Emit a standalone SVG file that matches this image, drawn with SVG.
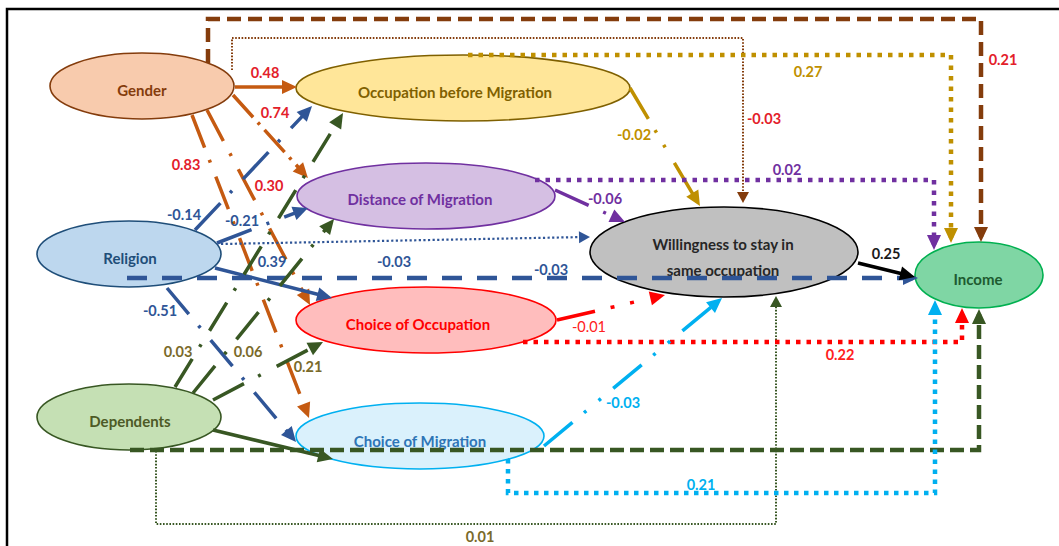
<svg xmlns="http://www.w3.org/2000/svg" width="1059" height="546" viewBox="0 0 1059 546">
<style>
.nt{font-family:Lato,"Liberation Sans",sans-serif;font-weight:700;font-size:15px;text-anchor:middle}
.lb{font-family:Lato,"Liberation Sans",sans-serif;font-weight:700;font-size:14.5px;text-anchor:middle}
.nd{stroke-width:1.6}
#connectors path{fill:none}
.or{stroke:#C55A11;stroke-width:3.5}
.br{stroke:#843C0C;stroke-width:4.5;stroke-dasharray:14 7}
.brt{stroke:#843C0C;stroke-width:2;stroke-dasharray:1.6 1.6}
.go{stroke:#BF9000;stroke-width:3.5}
.god{stroke:#BF9000;stroke-width:4.5;stroke-dasharray:4.5 6}
.pu{stroke:#7030A0;stroke-width:3.5}
.pud{stroke:#7030A0;stroke-width:4.5;stroke-dasharray:4.5 6}
.nv{stroke:#2F5597;stroke-width:3.5}
.nvd{stroke:#2F5597;stroke-width:4.5;stroke-dasharray:20 15}
.nvt{stroke:#2F5597;stroke-width:2.2;stroke-dasharray:2.2 2.4}
.gr{stroke:#385723;stroke-width:3.5}
.grd{stroke:#385723;stroke-width:4.5;stroke-dasharray:14 6}
.grt{stroke:#385723;stroke-width:2;stroke-dasharray:1.6 1.6}
.rd{stroke:#FF0000;stroke-width:3.5}
.rdd{stroke:#FF0000;stroke-width:4.5;stroke-dasharray:4.5 6}
.cy{stroke:#00B0F0;stroke-width:3.5}
.cyd{stroke:#00B0F0;stroke-width:4.5;stroke-dasharray:4.5 5.5}
.bk{stroke:#000;stroke-width:3.5}
</style>
<defs>
<marker id="m-or" viewBox="-11 -8 17 16" refX="0" refY="0" markerWidth="17" markerHeight="16" markerUnits="userSpaceOnUse" orient="auto"><path d="M-10,-7 L5,0 L-10,7z" fill="#C55A11"/></marker>
<marker id="m-br" viewBox="-11 -8 17 16" refX="0" refY="0" markerWidth="17" markerHeight="16" markerUnits="userSpaceOnUse" orient="auto"><path d="M-10,-7 L5,0 L-10,7z" fill="#843C0C"/></marker>
<marker id="m-brs" viewBox="-8 -7 13 14" refX="0" refY="0" markerWidth="13" markerHeight="14" markerUnits="userSpaceOnUse" orient="auto"><path d="M-7,-6 L4,0 L-7,6z" fill="#843C0C"/></marker>
<marker id="m-go" viewBox="-11 -8 17 16" refX="0" refY="0" markerWidth="17" markerHeight="16" markerUnits="userSpaceOnUse" orient="auto"><path d="M-10,-7 L5,0 L-10,7z" fill="#BF9000"/></marker>
<marker id="m-pu" viewBox="-11 -8 17 16" refX="0" refY="0" markerWidth="17" markerHeight="16" markerUnits="userSpaceOnUse" orient="auto"><path d="M-10,-7 L5,0 L-10,7z" fill="#7030A0"/></marker>
<marker id="m-nv" viewBox="-11 -8 17 16" refX="0" refY="0" markerWidth="17" markerHeight="16" markerUnits="userSpaceOnUse" orient="auto"><path d="M-10,-7 L5,0 L-10,7z" fill="#2F5597"/></marker>
<marker id="m-nvs" viewBox="-8 -7 13 14" refX="0" refY="0" markerWidth="13" markerHeight="14" markerUnits="userSpaceOnUse" orient="auto"><path d="M-7,-6 L4,0 L-7,6z" fill="#2F5597"/></marker>
<marker id="m-gr" viewBox="-11 -8 17 16" refX="0" refY="0" markerWidth="17" markerHeight="16" markerUnits="userSpaceOnUse" orient="auto"><path d="M-10,-7 L5,0 L-10,7z" fill="#385723"/></marker>
<marker id="m-grs" viewBox="-8 -7 13 14" refX="0" refY="0" markerWidth="13" markerHeight="14" markerUnits="userSpaceOnUse" orient="auto"><path d="M-7,-6 L4,0 L-7,6z" fill="#385723"/></marker>
<marker id="m-rd" viewBox="-11 -8 17 16" refX="0" refY="0" markerWidth="17" markerHeight="16" markerUnits="userSpaceOnUse" orient="auto"><path d="M-10,-7 L5,0 L-10,7z" fill="#FF0000"/></marker>
<marker id="m-cy" viewBox="-11 -8 17 16" refX="0" refY="0" markerWidth="17" markerHeight="16" markerUnits="userSpaceOnUse" orient="auto"><path d="M-10,-7 L5,0 L-10,7z" fill="#00B0F0"/></marker>
<marker id="m-bk" viewBox="-11 -8 17 16" refX="0" refY="0" markerWidth="17" markerHeight="16" markerUnits="userSpaceOnUse" orient="auto"><path d="M-10,-7 L5,0 L-10,7z" fill="#000"/></marker>
</defs>
<rect width="1059" height="546" fill="#fff"/>
<path d="M7,546 V9 H1059" fill="none" stroke="#000" stroke-width="2.5"/>

<g id="gender"><ellipse class="nd" cx="142" cy="86" rx="92" ry="33" fill="#F8CBAD" stroke="#843C0C"/><text class="nt" x="142" y="96" fill="#843C0C">Gender</text></g>
<g id="occupation-before-migration"><ellipse class="nd" cx="463" cy="88" rx="167" ry="33" fill="#FFE699" stroke="#7F6000"/><text class="nt" x="455" y="98" fill="#7F6000">Occupation before Migration</text></g>
<g id="distance-of-migration"><ellipse class="nd" cx="426" cy="196" rx="129" ry="33" fill="#D5BFE3" stroke="#7030A0"/><text class="nt" x="420" y="205" fill="#7030A0">Distance of Migration</text></g>
<g id="religion"><ellipse class="nd" cx="129" cy="254" rx="92" ry="33" fill="#BDD7EE" stroke="#1F4E79"/><text class="nt" x="130" y="264" fill="#1F4E79">Religion</text></g>
<g id="choice-of-occupation"><ellipse class="nd" cx="426" cy="320" rx="130" ry="33" fill="#FFBDBD" stroke="#FF0000"/><text class="nt" x="418" y="330" fill="#FF0000">Choice of Occupation</text></g>
<g id="dependents"><ellipse class="nd" cx="129" cy="417" rx="92" ry="33" fill="#C5E0B4" stroke="#385723"/><text class="nt" x="130" y="427" fill="#4D5A26">Dependents</text></g>
<g id="choice-of-migration"><ellipse class="nd" cx="420" cy="436" rx="124" ry="33" fill="#DAF1FC" stroke="#00B0F0"/><text class="nt" x="420" y="447" fill="#2E75B6">Choice of Migration</text></g>
<g id="willingness"><ellipse class="nd" cx="724" cy="252" rx="134" ry="45" fill="#C0C0C0" stroke="#000"/><text class="nt" x="723" y="250" fill="#262626">Willingness to stay in</text><text class="nt" x="723" y="276" fill="#262626">same occupation</text></g>
<g id="income"><ellipse class="nd" cx="979" cy="275" rx="64" ry="33" fill="#7FD6A4" stroke="#00B050"/><text class="nt" x="978" y="285" fill="#1E5B30">Income</text></g>

<g id="connectors">
<path class="or" d="M235,87 H292" marker-end="url(#m-or)"/>
<path class="or" d="M233,95 L304.6,174.3" stroke-dasharray="30 7 3 7" marker-end="url(#m-or)"/>
<path class="or" d="M207,110 L307.7,300.6" stroke-dasharray="35 14 3 15" marker-end="url(#m-or)"/>
<path class="or" d="M192,115 L307.2,413.3" stroke-dasharray="35 13 3 15" marker-end="url(#m-or)"/>
<path class="br" d="M208,63 V19 H981 V237" marker-end="url(#m-br)"/>
<path class="brt" d="M232,70 V38 H743 V199" marker-end="url(#m-brs)"/>
<path class="god" d="M468,55 H951 V238" marker-end="url(#m-go)"/>
<path class="go" d="M630,88 L697.4,201.7" stroke-dasharray="36 13 3 14 3 18" marker-end="url(#m-go)"/>
<path class="pu" d="M555,190 L620.5,219.9" stroke-dasharray="37 16 3 40" marker-end="url(#m-pu)"/>
<path class="pud" d="M535,180 H934 V245" marker-end="url(#m-pu)"/>
<path class="nv" d="M195,230 L308.6,109.6" stroke-dasharray="37 14 3 16" marker-end="url(#m-nv)"/>
<path class="nv" d="M217,243 L303.3,209.8" stroke-dasharray="37 16 3 16" marker-end="url(#m-nv)"/>
<path class="nvt" d="M221,244 L586,237" marker-end="url(#m-nvs)"/>
<path class="nvd" d="M127,278 H913" marker-end="url(#m-nv)"/>
<path class="nv" d="M215,268 L327.2,296.8" marker-end="url(#m-nv)"/>
<path class="nv" d="M167,288 L292.8,438.2" stroke-dasharray="34 15 3 16" marker-end="url(#m-nv)"/>
<path class="gr" d="M175,387 L340.4,117.3" stroke-dasharray="33 14 3 16" marker-end="url(#m-gr)"/>
<path class="gr" d="M193,393 L330.9,222.9" stroke-dasharray="35 15 3 16" marker-end="url(#m-gr)"/>
<path class="gr" d="M213,400 L318.6,344.3" stroke-dasharray="35 16 3 18" marker-end="url(#m-gr)"/>
<path class="gr" d="M213,430 L328.1,457.8" marker-end="url(#m-gr)"/>
<path class="grd" d="M130,450 H979 V314" marker-end="url(#m-gr)"/>
<path class="grt" d="M156,451 V524 H776 V300" marker-end="url(#m-grs)"/>
<path class="rd" d="M557,320 L660.1,296.1" stroke-dasharray="39 16 4 16 4 100" marker-end="url(#m-rd)"/>
<path class="rdd" d="M523,342 H962 V313" marker-end="url(#m-rd)"/>
<path class="cy" d="M544,446 L718.2,301.2" stroke-dasharray="37 15 3 16 3 16" marker-end="url(#m-cy)"/>
<path class="cyd" d="M508,459 V493 H935 V305" marker-end="url(#m-cy)"/>
<path class="bk" d="M858,263 L910.1,275.8" marker-end="url(#m-bk)"/>
</g>

<g id="labels" class="lb">
<text x="265" y="78" fill="#E3202A">0.48</text>
<text x="275" y="118" fill="#E3202A">0.74</text>
<text x="186" y="170" fill="#E3202A">0.83</text>
<text x="269" y="191" fill="#E3202A">0.30</text>
<text x="764" y="124" fill="#E3202A">-0.03</text>
<text x="1003" y="65" fill="#E3202A">0.21</text>
<text x="808" y="77" fill="#C09000">0.27</text>
<text x="634" y="140" fill="#C09000">-0.02</text>
<text x="787" y="175" fill="#7030A0">0.02</text>
<text x="605" y="204" fill="#7030A0">-0.06</text>
<text x="184" y="220" fill="#2F5597">-0.14</text>
<text x="242" y="226" fill="#2F5597">-0.21</text>
<text x="272" y="267" fill="#2F5597">0.39</text>
<text x="160" y="316" fill="#2F5597">-0.51</text>
<text x="394" y="267" fill="#2F5597">-0.03</text>
<text x="551" y="275" fill="#2F5597">-0.03</text>
<text x="178" y="357" fill="#7A6A2A">0.03</text>
<text x="248" y="357" fill="#7A6A2A">0.06</text>
<text x="308" y="372" fill="#7A6A2A">0.21</text>
<text x="480" y="542" fill="#7A6A2A">0.01</text>
<text x="589" y="332" fill="#FF2020" font-weight="400">-0.01</text>
<text x="840" y="360" fill="#FF2020">0.22</text>
<text x="623" y="408" fill="#00B0F0">-0.03</text>
<text x="701" y="490" fill="#00B0F0">0.21</text>
<text x="886" y="259" fill="#1A1A1A">0.25</text>
</g>
</svg>
